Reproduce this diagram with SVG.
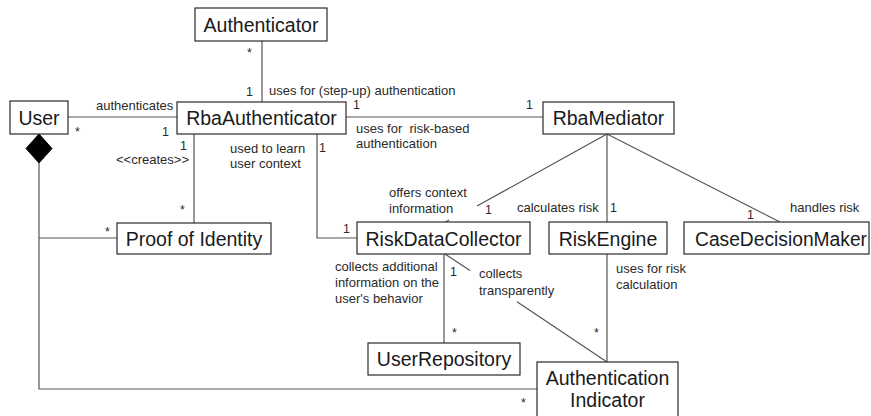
<svg xmlns="http://www.w3.org/2000/svg" width="871" height="416" viewBox="0 0 871 416">
  <style>
    .box { fill: #ffffff; stroke: #2a2a2a; stroke-width: 1.2; }
    .name { font-family: "Liberation Sans", Arial, sans-serif; font-size: 19.5px; fill: #1a1a1a; text-anchor: middle; }
    .lbl { font-family: "Liberation Sans", Arial, sans-serif; font-size: 13px; fill: #2a2a2a; white-space: pre; }
    .mult { font-family: "Liberation Sans", Arial, sans-serif; font-size: 12.5px; fill: #2a2a2a; }
    .edge { fill: none; stroke: #555555; stroke-width: 1.2; }
  </style>
  <rect width="871" height="416" fill="#ffffff"/>

  <!-- associations -->
  <g id="connectors">
    <line class="edge" x1="262" y1="41" x2="262" y2="102"/>
    <line class="edge" x1="68" y1="117" x2="177" y2="117"/>
    <line class="edge" x1="346" y1="117" x2="543" y2="117"/>
    <line class="edge" x1="194" y1="134" x2="194" y2="223"/>
    <polyline class="edge" points="317,134 317,238 357,238"/>
    <!-- User composition -->
    <polygon points="39,134 52,148.5 39,163 26,148.5" fill="#000000" stroke="#000000"/>
    <polyline class="edge" points="39,163 39,389 537,389"/>
    <line class="edge" x1="39" y1="238" x2="117" y2="238"/>
    <!-- RbaMediator fan-out -->
    <line class="edge" x1="607" y1="134" x2="477" y2="206"/>
    <line class="edge" x1="449" y1="220" x2="444" y2="223"/>
    <line class="edge" x1="607" y1="134" x2="607" y2="222"/>
    <line class="edge" x1="607" y1="134" x2="780" y2="222"/>
    <!-- lower part -->
    <line class="edge" x1="444" y1="254" x2="444" y2="343"/>
    <line class="edge" x1="445" y1="254" x2="470" y2="270.6"/>
    <line class="edge" x1="517" y1="301.7" x2="607" y2="362"/>
    <line class="edge" x1="607" y1="254" x2="607" y2="362"/>
  </g>

  <!-- classes -->
  <g id="authenticator">
    <rect class="box" x="195" y="8" width="132" height="33"/>
    <text class="name" x="261" y="32">Authenticator</text>
  </g>
  <g id="user">
    <rect class="box" x="10" y="101" width="58" height="33"/>
    <text class="name" x="39" y="125">User</text>
  </g>
  <g id="rba-authenticator">
    <rect class="box" x="177" y="102" width="169" height="32"/>
    <text class="name" x="261.5" y="125">RbaAuthenticator</text>
  </g>
  <g id="rba-mediator">
    <rect class="box" x="543" y="102" width="131" height="32"/>
    <text class="name" x="608.5" y="125">RbaMediator</text>
  </g>
  <g id="proof-of-identity">
    <rect class="box" x="117" y="223" width="154" height="31"/>
    <text class="name" x="194" y="246">Proof of Identity</text>
  </g>
  <g id="risk-data-collector">
    <rect class="box" x="357" y="222" width="173" height="32"/>
    <text class="name" x="443.5" y="246">RiskDataCollector</text>
  </g>
  <g id="risk-engine">
    <rect class="box" x="549" y="222" width="118" height="32"/>
    <text class="name" x="608" y="246">RiskEngine</text>
  </g>
  <g id="case-decision-maker">
    <rect class="box" x="684" y="222" width="185" height="32"/>
    <text class="name" x="781" y="246" textLength="172" lengthAdjust="spacingAndGlyphs">CaseDecisionMaker</text>
  </g>
  <g id="user-repository">
    <rect class="box" x="368" y="343" width="152" height="32"/>
    <text class="name" x="444" y="366">UserRepository</text>
  </g>
  <g id="authentication-indicator">
    <rect class="box" x="537" y="362" width="141" height="60"/>
    <text class="name" x="607.5" y="385">Authentication</text>
    <text class="name" x="607.5" y="407">Indicator</text>
  </g>

  <!-- association labels -->
  <g id="labels">
    <text class="lbl" x="96" y="110">authenticates</text>
    <text class="lbl" x="269" y="95">uses for (step-up) authentication</text>
    <text class="lbl" x="356" y="133">uses for  risk-based</text>
    <text class="lbl" x="356" y="148">authentication</text>
    <text class="lbl" x="116" y="164">&lt;&lt;creates&gt;&gt;</text>
    <text class="lbl" x="230" y="153">used to learn</text>
    <text class="lbl" x="230" y="168">user context</text>
    <text class="lbl" x="389" y="197">offers context</text>
    <text class="lbl" x="389" y="213">information</text>
    <text class="lbl" x="517" y="212">calculates risk</text>
    <text class="lbl" x="790" y="212">handles risk</text>
    <text class="lbl" x="335" y="271">collects additional</text>
    <text class="lbl" x="335" y="287">information on the</text>
    <text class="lbl" x="335" y="303">user's behavior</text>
    <text class="lbl" x="479" y="278">collects</text>
    <text class="lbl" x="479" y="295">transparently</text>
    <text class="lbl" x="616" y="273">uses for risk</text>
    <text class="lbl" x="616" y="289">calculation</text>
  </g>

  <!-- multiplicities -->
  <g id="multiplicities">
    <text class="mult" x="247" y="57">*</text>
    <text class="mult" x="246" y="96">1</text>
    <text class="mult" x="75" y="136">*</text>
    <text class="mult" x="162" y="136">1</text>
    <text class="mult" x="353" y="109">1</text>
    <text class="mult" x="526" y="109">1</text>
    <text class="mult" x="180" y="150">1</text>
    <text class="mult" x="319" y="152">1</text>
    <text class="mult" x="180" y="214">*</text>
    <text class="mult" x="105" y="236">*</text>
    <text class="mult" x="343" y="233">1</text>
    <text class="mult" x="485" y="214">1</text>
    <text class="mult" x="610" y="212">1</text>
    <text class="mult" x="747" y="219">1</text>
    <text class="mult" x="450" y="276">1</text>
    <text class="mult" x="452" y="337">*</text>
    <text class="mult" x="594" y="337">*</text>
    <text class="mult" x="521" y="407">*</text>
  </g>
</svg>
